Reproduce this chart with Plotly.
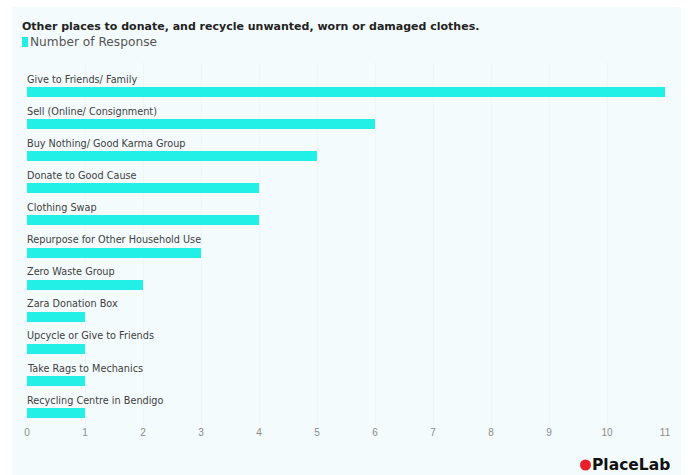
import plotly.graph_objects as go

categories = [
    "Give to Friends/ Family",
    "Sell (Online/ Consignment)",
    "Buy Nothing/ Good Karma Group",
    "Donate to Good Cause",
    "Clothing Swap",
    "Repurpose for Other Household Use",
    "Zero Waste Group",
    "Zara Donation Box",
    "Upcycle or Give to Friends",
    "Take Rags to Mechanics",
    "Recycling Centre in Bendigo",
]
responses = [11, 6, 5, 4, 4, 3, 2, 1, 1, 1, 1]
tick_values = list(range(0, 12))
series_name = "Number of Response"
title_text = "Other places to donate, and recycle unwanted, worn or damaged clothes."

CYAN = "#22efe6"
FONT = "DejaVu Sans, Liberation Sans, sans-serif"
TICKFONT = "Liberation Sans, Arial, sans-serif"

positions = list(range(len(categories)))

fig = go.Figure()
fig.add_trace(go.Bar(
    x=responses,
    y=positions,
    orientation="h",
    width=0.31,
    marker=dict(color=CYAN, line=dict(width=0)),
    name=series_name,
    showlegend=False,
    hovertemplate="%{customdata}: %{x}<extra></extra>",
    customdata=categories,
))

annotations = []
for pos, cat in zip(positions, categories):
    annotations.append(dict(
        x=0, y=pos, xref="x", yref="y", text=cat, showarrow=False,
        xanchor="left", yanchor="middle", yshift=13, xshift=-2,
        font=dict(family=FONT, size=9.7, color="#404040"),
    ))

# title
annotations.append(dict(
    x=20, y=26, xref="paper", yref="paper", text="<b>" + title_text + "</b>",
    showarrow=False, xanchor="left", yanchor="middle",
    font=dict(family=FONT, size=11, color="#222222"),
))
# legend text
annotations.append(dict(
    x=28, y=42, xref="paper", yref="paper", text=series_name,
    showarrow=False, xanchor="left", yanchor="middle",
    font=dict(family=FONT, size=12.2, color="#555555"),
))
# logo
annotations.append(dict(
    x=590, y=465, xref="paper", yref="paper", text="<b>PlaceLab</b>",
    showarrow=False, xanchor="left", yanchor="middle",
    font=dict(family=FONT, size=15.5, color="#111111"),
))

# convert pixel-based annotations for paper refs
W, H = 688, 475
L, R, T, B = 27, 23, 62, 50
pw, ph = W - L - R, H - T - B


def px_x(x):
    return (x - L) / pw


def px_y(y):
    return (H - B - y) / ph


for a in annotations:
    if a["xref"] == "paper":
        a["x"] = px_x(a["x"])
        a["y"] = px_y(a["y"])

shapes = [
    dict(type="rect", xref="paper", yref="paper", layer="below",
         x0=px_x(12), x1=px_x(681), y0=px_y(475), y1=px_y(7),
         fillcolor="#f4fbfc", line=dict(width=0)),
    dict(type="rect", xref="paper", yref="paper",
         x0=px_x(22), x1=px_x(28), y0=px_y(47), y1=px_y(37),
         fillcolor=CYAN, line=dict(width=0)),
    dict(type="circle", xref="paper", yref="paper",
         x0=px_x(580), x1=px_x(591), y0=px_y(470.5), y1=px_y(459.5),
         fillcolor="#e8202a", line=dict(width=0)),
]

fig.update_layout(
    width=W, height=H,
    margin=dict(l=L, r=R, t=T, b=B),
    paper_bgcolor="white",
    plot_bgcolor="rgba(0,0,0,0)",
    font=dict(family=FONT),
    bargap=0,
    xaxis=dict(
        range=[0, 11], tickvals=tick_values, showgrid=True,
        gridcolor="#eef6f8", gridwidth=1, zeroline=False, showline=False,
        tickfont=dict(family=TICKFONT, size=10, color="#8a8a8a"),
        ticks="", fixedrange=True,
    ),
    yaxis=dict(
        range=[10.37, -0.935], showticklabels=False, showgrid=False,
        zeroline=False, showline=False, fixedrange=True,
    ),
    annotations=annotations,
    shapes=shapes,
    showlegend=False,
)

fig.write_html("out.html")
